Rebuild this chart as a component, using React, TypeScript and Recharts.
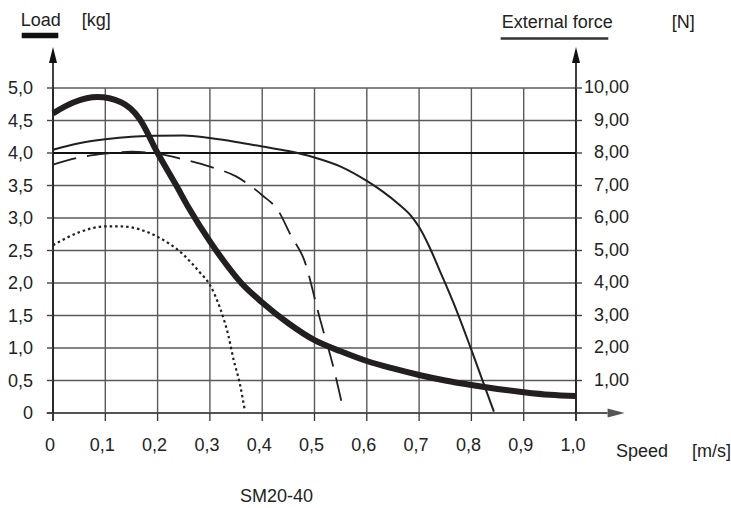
import React from 'react';
import { ComposedChart, Line, XAxis, YAxis, CartesianGrid, ReferenceLine } from 'recharts';

const speedTicks = [0, 0.1, 0.2, 0.3, 0.4, 0.5, 0.6, 0.7, 0.8, 0.9, 1.0];
const loadTicks = [0, 0.5, 1, 1.5, 2, 2.5, 3, 3.5, 4, 4.5, 5];
const forceTicks = [0, 1, 2, 3, 4, 5, 6, 7, 8, 9, 10];

// Load [kg] (thick line, left axis)
const loadSpeed = [0, 0.04, 0.085, 0.13, 0.165, 0.2, 0.235, 0.26, 0.3, 0.33, 0.36, 0.4, 0.45, 0.5, 0.55, 0.6, 0.65, 0.7, 0.75, 0.8, 0.85, 0.9, 0.95, 1.0];
const loadKg = [4.61, 4.78, 4.86, 4.78, 4.53, 4.0, 3.51, 3.15, 2.64, 2.3, 2.0, 1.7, 1.38, 1.12, 0.95, 0.8, 0.685, 0.585, 0.5, 0.43, 0.37, 0.32, 0.28, 0.26];

// External force [N] (thin solid, right axis)
const solidSpeed = [0, 0.05, 0.1, 0.15, 0.2, 0.25, 0.3, 0.35, 0.4, 0.45, 0.5, 0.55, 0.6, 0.63, 0.66, 0.685, 0.7, 0.72, 0.74, 0.77, 0.8, 0.843];
const solidForce = [8.1, 8.3, 8.42, 8.5, 8.53, 8.54, 8.46, 8.34, 8.2, 8.06, 7.86, 7.58, 7.14, 6.82, 6.44, 6.06, 5.72, 5.1, 4.36, 3.22, 1.94, 0.04];

// External force [N] (dashed, right axis)
const dashedSpeed = [0, 0.05, 0.1, 0.15, 0.2, 0.25, 0.3, 0.35, 0.4, 0.43, 0.455, 0.48, 0.51, 0.54, 0.555];
const dashedForce = [7.64, 7.86, 7.98, 8.04, 7.98, 7.8, 7.58, 7.28, 6.7, 6.24, 5.46, 4.72, 2.92, 1.16, 0.1];

// External force [N] (dotted, right axis)
const dottedSpeed = [0, 0.05, 0.1, 0.13, 0.2, 0.25, 0.28, 0.3, 0.32, 0.335, 0.345, 0.357, 0.367];
const dottedForce = [5.16, 5.56, 5.74, 5.74, 5.42, 4.86, 4.34, 3.94, 3.2, 2.4, 1.66, 0.92, 0.06];

const toRows = (xs: number[], ys: number[]) => xs.map((x, i) => ({ x, y: ys[i] }));

const FONT = "'Liberation Sans', Arial, sans-serif";
const TXT = '#222';
const INK = '#231f20';

const fmtSpeed = (v: number) => (v === 0 ? '0' : v.toFixed(1).replace('.', ','));
const fmtLoad = (v: number) => (v === 0 ? '0' : v.toFixed(1).replace('.', ','));
const fmtForce = (v: number) => (v === 0 ? '' : v.toFixed(2).replace('.', ','));

const XTick = (p: any) => (
  <text x={p.x - 3} y={p.y} dy="0.71em" textAnchor="middle" fontFamily={FONT} fontSize={18} fill={TXT}>
    {fmtSpeed(p.payload.value)}
  </text>
);
const LeftTick = (p: any) => (
  <text x={p.x} y={p.y} dy="0.355em" textAnchor="end" fontFamily={FONT} fontSize={18} fill={TXT}>
    {fmtLoad(p.payload.value)}
  </text>
);
const RightTick = (p: any) => (
  <text x={p.x + 47} y={p.y} dy="0.3em" textAnchor="end" fontFamily={FONT} fontSize={18} fill={TXT}>
    {fmtForce(p.payload.value)}
  </text>
);

const arrowShape = (len: number, half: number, color: string, width: number) => (p: any) => {
  const { x1, y1, x2, y2 } = p;
  const dx = x2 - x1;
  const dy = y2 - y1;
  const L = Math.hypot(dx, dy) || 1;
  const ux = dx / L;
  const uy = dy / L;
  const bx = x2 - ux * len;
  const by = y2 - uy * len;
  const px = -uy * half;
  const py = ux * half;
  return (
    <g>
      <line x1={x1} y1={y1} x2={bx} y2={by} stroke={color} strokeWidth={width} />
      <polygon points={`${x2},${y2} ${bx + px},${by + py} ${bx - px},${by - py}`} fill={color} />
    </g>
  );
};

export default function App() {
  return (
    <div style={{ position: 'relative', width: 731, height: 508, overflow: 'hidden', background: '#fff' }}>
      <style>{'html,body{margin:0;padding:0;overflow:hidden;}'}</style>
      <ComposedChart width={731} height={508} margin={{ top: 88, right: 0, left: 8, bottom: 55 }}>
        <CartesianGrid yAxisId="left" stroke="#5a5a5a" strokeWidth={1.4} />
        <XAxis
          dataKey="x"
          type="number"
          domain={[0, 1]}
          ticks={speedTicks}
          axisLine={false}
          tickLine={{ stroke: '#333', strokeWidth: 1.3 }}
          tickSize={8}
          tickMargin={17}
          height={40}
          tick={XTick}
          allowDuplicatedCategory={false}
        />
        <YAxis
          yAxisId="left"
          type="number"
          domain={[0, 5]}
          ticks={loadTicks}
          width={45}
          axisLine={false}
          tickLine={{ stroke: '#444', strokeWidth: 1.4 }}
          tickSize={6}
          tickMargin={14}
          tick={LeftTick}
        />
        <YAxis
          yAxisId="right"
          orientation="right"
          type="number"
          domain={[0, 10]}
          ticks={forceTicks}
          width={155}
          axisLine={false}
          tickLine={{ stroke: '#444', strokeWidth: 1.4 }}
          tickSize={6}
          tickMargin={0}
          tick={RightTick}
        />
        <ReferenceLine yAxisId="left" y={4} stroke="#111" strokeWidth={1.8} />
        <ReferenceLine
          yAxisId="left"
          segment={[{ x: -0.012, y: 0 }, { x: 1.093, y: 0 }]}
          ifOverflow="visible"
          shape={arrowShape(17, 4.5, '#555', 2)}
        />
        <ReferenceLine
          yAxisId="left"
          segment={[{ x: 0, y: -0.12 }, { x: 0, y: 5.63 }]}
          ifOverflow="visible"
          shape={arrowShape(16, 4, '#111', 1.6)}
        />
        <ReferenceLine
          yAxisId="left"
          segment={[{ x: 1, y: -0.12 }, { x: 1, y: 5.63 }]}
          ifOverflow="visible"
          shape={arrowShape(16, 4, '#111', 1.6)}
        />
        <Line
          data={toRows(dottedSpeed, dottedForce)}
          dataKey="y"
          yAxisId="right"
          type="monotone"
          stroke={INK}
          strokeWidth={2.2}
          strokeDasharray="2.5 3"
          dot={false}
          activeDot={false}
          isAnimationActive={false}
        />
        <Line
          data={toRows(dashedSpeed, dashedForce)}
          dataKey="y"
          yAxisId="right"
          type="monotone"
          stroke={INK}
          strokeWidth={1.8}
          strokeDasharray="24 11"
          dot={false}
          activeDot={false}
          isAnimationActive={false}
        />
        <Line
          data={toRows(solidSpeed, solidForce)}
          dataKey="y"
          yAxisId="right"
          type="monotone"
          stroke={INK}
          strokeWidth={2}
          dot={false}
          activeDot={false}
          isAnimationActive={false}
        />
        <Line
          data={toRows(loadSpeed, loadKg)}
          dataKey="y"
          yAxisId="left"
          type="monotone"
          stroke={INK}
          strokeWidth={6}
          dot={false}
          activeDot={false}
          isAnimationActive={false}
        />
      </ComposedChart>
      <svg
        width={731}
        height={508}
        style={{ position: 'absolute', left: 0, top: 0, pointerEvents: 'none' }}
        fontFamily={FONT}
        fontSize={18}
        fill={TXT}
      >
        <text x={20.7} y={26}>Load</text>
        <line x1={21.7} y1={35.5} x2={58.3} y2={35.5} stroke="#111" strokeWidth={5.7} />
        <text x={81.7} y={26}>[kg]</text>
        <text x={501.7} y={28.3}>External force</text>
        <line x1={500.7} y1={38.5} x2={608.3} y2={38.5} stroke="#333" strokeWidth={2.5} />
        <text x={671.7} y={28}>[N]</text>
        <text x={616} y={456.7}>Speed</text>
        <text x={692} y={457}>[m/s]</text>
        <text x={240} y={502}>SM20-40</text>
      </svg>
    </div>
  );
}
